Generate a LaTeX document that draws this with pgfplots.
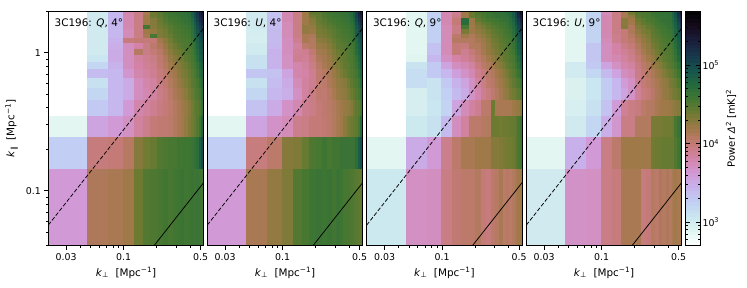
\documentclass[border=0pt]{standalone}
\usepackage{fontspec}
\setmainfont{DejaVu Sans}
\usepackage{pgfplots}
\pgfplotsset{compat=1.18}
\newcommand\kperp{\textit{k}\textsubscript{⊥}\ \ [Mpc\textsuperscript{−1}]}
\newcommand\kpar{\textit{k}\textsubscript{∥}\ \ [Mpc\textsuperscript{−1}]}
\newcommand\ttl[1]{\node[anchor=base west,inner sep=0pt,font=\fontsize{10.4}{11}\selectfont] at (axis description cs:0.04,0.932) {#1};}
\pgfplotsset{
  chpanel/.style={
    scale only axis, width=155.4pt, height=234.7pt,
    xmin=0.02065, xmax=0.533, ymin=0.04, ymax=2.0,
    axis on top, axis line style={black,line width=0.8pt},
    tick style={black,line width=0.7pt},
    major tick length=4pt, minor tick length=2.4pt, tick align=outside,
    xtick pos=bottom, ytick pos=left,
    xtick={0.03,0.1,0.5}, xticklabels={0.03,0.1,0.5},
    minor xtick={0.04,0.05,0.06,0.07,0.08,0.09,0.2,0.3,0.4},
    ytick=\empty,
    xlabel={\kperp},
    xlabel style={at={(axis description cs:0.5,0)},anchor=base,yshift=-30.5pt},
    tick label style={font=\fontsize{9.4}{11}\selectfont},
    label style={font=\fontsize{10.4}{11}\selectfont},
    colormap={ch}{rgb=(1,1,1) rgb=(.8851,.9634,.9413) rgb=(.7927,.9046,.9407) rgb=(.7581,.8136,.9549)
      rgb=(.7798,.7015,.9287) rgb=(.8209,.5936,.8272) rgb=(.8299,.5152,.6552) rgb=(.7673,.4784,.4552)
      rgb=(.6275,.475,.2864) rgb=(.4414,.4807,.1953) rgb=(.2616,.4669,.1915) rgb=(.1363,.4148,.2444)
      rgb=(.085,.325,.2979) rgb=(.0894,.2163,.3005) rgb=(.1042,.1156,.232) rgb=(.0817,.0431,.1143) rgb=(0,0,0)},
    point meta min=2.70, point meta max=5.69,
  },
  chcells/.style={surf, shader=flat corner, mesh/rows=21, mesh/cols=21, forget plot},
}
\def\xn{\ifcase\numexpr\coordindex-21*((\coordindex-10)/21)\relax 0.0205\or0.0467\or0.0725\or0.0983\or0.1241\or0.1499\or0.1757\or0.2015\or0.2273\or0.2531\or0.2789\or0.3047\or0.3305\or0.3563\or0.3821\or0.4079\or0.4337\or0.4595\or0.4853\or0.5111\or0.5369\fi}
\def\yn{\ifcase\numexpr(\coordindex-10)/21\relax 2.05\or1.979\or1.877\or1.775\or1.673\or1.571\or1.469\or1.367\or1.265\or1.163\or1.061\or0.959\or0.857\or0.755\or0.653\or0.551\or0.449\or0.347\or0.245\or0.143\or0.039\fi}
\pgfplotsset{/pgfplots/table/gridtable/.style={row sep=crcr, header=false,
  x expr={\xn}, y expr={\yn}}}
\begin{document}
\begin{tikzpicture}
\useasboundingbox (0pt,0pt) rectangle (747pt,287pt);
%%% panel 1
\begin{axis}[xmode=log, ymode=log, chpanel, at={(48.3pt,41.3pt)}, anchor=south west,
  ytick={0.1,1}, yticklabels={0.1,1},
  minor ytick={0.04,0.05,0.06,0.07,0.08,0.09,0.2,0.3,0.4,0.5,0.6,0.7,0.8,0.9,2},
  ylabel={\kpar}, ylabel style={at={(axis description cs:0,0.5)},anchor=base,yshift=34pt}]
\addplot[chcells, point meta=\thisrowno{0}] table[gridtable]{
2.70\\3.03\\3.42\\3.80\\3.95\\4.15\\4.40\\4.47\\4.55\\4.60\\4.62\\4.65\\4.66\\4.68\\4.72\\4.85\\5.00\\5.15\\5.30\\5.40\\5.40\\
2.70\\3.03\\3.42\\3.80\\3.95\\4.15\\4.40\\4.47\\4.55\\4.60\\4.62\\4.65\\4.66\\4.68\\4.72\\4.85\\5.00\\5.15\\5.30\\5.40\\5.40\\
2.70\\3.03\\3.42\\3.78\\3.95\\4.20\\4.40\\4.45\\4.52\\4.58\\4.60\\4.62\\4.65\\4.67\\4.70\\4.82\\4.98\\5.12\\5.25\\5.35\\5.35\\
2.70\\3.03\\3.42\\3.78\\3.95\\4.20\\4.30\\4.42\\4.50\\4.56\\4.58\\4.60\\4.63\\4.65\\4.68\\4.78\\4.92\\5.08\\5.20\\5.30\\5.30\\
2.70\\3.03\\3.42\\3.78\\3.95\\4.20\\4.30\\4.40\\4.46\\4.52\\4.56\\4.58\\4.60\\4.63\\4.66\\4.74\\4.88\\5.02\\5.15\\5.25\\5.25\\
2.70\\3.03\\3.42\\3.78\\3.95\\4.58\\4.30\\4.38\\4.43\\4.48\\4.54\\4.56\\4.58\\4.60\\4.63\\4.70\\4.84\\4.98\\5.08\\5.18\\5.18\\
2.70\\3.03\\3.42\\3.75\\3.95\\4.20\\4.25\\4.33\\4.38\\4.46\\4.52\\4.54\\4.56\\4.58\\4.60\\4.68\\4.80\\4.93\\5.04\\5.12\\5.12\\
2.70\\3.03\\3.42\\3.75\\3.95\\4.15\\4.55\\4.33\\4.36\\4.43\\4.50\\4.52\\4.54\\4.56\\4.58\\4.65\\4.76\\4.88\\5.00\\5.06\\5.06\\
2.70\\3.03\\3.45\\3.98\\4.00\\4.00\\4.00\\4.18\\4.28\\4.38\\4.46\\4.50\\4.52\\4.54\\4.56\\4.62\\4.72\\4.85\\4.96\\5.03\\5.03\\
2.70\\3.03\\3.48\\3.72\\3.82\\3.95\\4.05\\4.12\\4.23\\4.33\\4.40\\4.46\\4.50\\4.52\\4.54\\4.60\\4.68\\4.80\\4.92\\4.98\\4.98\\
2.70\\3.03\\3.50\\3.72\\4.08\\3.95\\4.00\\4.07\\4.18\\4.28\\4.36\\4.40\\4.46\\4.50\\4.52\\4.57\\4.65\\4.76\\4.88\\4.95\\4.95\\
2.70\\3.08\\3.50\\3.72\\3.85\\3.90\\3.95\\4.04\\4.12\\4.23\\4.30\\4.36\\4.40\\4.46\\4.50\\4.55\\4.60\\4.72\\4.84\\4.90\\4.90\\
2.70\\3.20\\3.45\\3.72\\3.82\\3.88\\3.92\\4.02\\4.09\\4.18\\4.26\\4.30\\4.36\\4.40\\4.46\\4.52\\4.57\\4.66\\4.78\\4.85\\4.85\\
2.70\\3.38\\3.42\\3.65\\3.80\\3.85\\3.90\\3.98\\4.05\\4.13\\4.20\\4.28\\4.33\\4.36\\4.43\\4.48\\4.54\\4.62\\4.72\\4.80\\4.80\\
2.70\\3.12\\3.42\\3.50\\3.72\\3.80\\3.85\\3.96\\4.02\\4.10\\4.16\\4.23\\4.28\\4.33\\4.40\\4.46\\4.50\\4.56\\4.65\\4.74\\4.74\\
2.70\\3.20\\3.42\\3.50\\3.72\\3.78\\3.85\\3.94\\3.99\\4.06\\4.13\\4.18\\4.23\\4.28\\4.36\\4.42\\4.48\\4.52\\4.58\\4.70\\4.70\\
2.70\\3.30\\3.42\\3.62\\3.80\\3.85\\3.90\\3.96\\4.00\\4.04\\4.09\\4.15\\4.20\\4.23\\4.30\\4.38\\4.44\\4.48\\4.54\\4.64\\4.64\\
2.87\\3.55\\3.62\\3.70\\3.85\\3.92\\4.00\\4.02\\4.02\\4.05\\4.10\\4.15\\4.18\\4.25\\4.32\\4.38\\4.42\\4.50\\4.60\\4.80\\4.80\\
3.27\\3.98\\4.00\\4.08\\4.30\\4.38\\4.42\\4.50\\4.52\\4.55\\4.55\\4.58\\4.58\\4.60\\4.60\\4.62\\4.65\\4.70\\4.85\\4.98\\4.98\\
3.62\\4.12\\4.15\\4.20\\4.40\\4.50\\4.52\\4.55\\4.58\\4.55\\4.58\\4.60\\4.62\\4.58\\4.60\\4.62\\4.60\\4.62\\4.60\\4.58\\4.58\\
2.70\\2.70\\2.70\\2.70\\2.70\\2.70\\2.70\\2.70\\2.70\\2.70\\2.70\\2.70\\2.70\\2.70\\2.70\\2.70\\2.70\\2.70\\2.70\\2.70\\2.70\\
};
\addplot[black,dash pattern=on 4pt off 2pt,line width=0.75pt] coordinates {(0.02065,0.0564) (0.533,1.5)};
\addplot[black,line width=0.75pt] coordinates {(0.1885,0.04) (0.533,0.1145)};
\ttl{3C196: \textit{Q},\,\,4°}
\end{axis}
%%% panel 2
\begin{axis}[xmode=log, ymode=log, chpanel, at={(207.3pt,41.3pt)}, anchor=south west]
\addplot[chcells, point meta=\thisrowno{0}] table[gridtable]{
2.70\\3.03\\3.35\\3.78\\3.95\\4.20\\4.45\\4.46\\4.54\\4.58\\4.60\\4.62\\4.64\\4.66\\4.68\\4.75\\4.85\\5.05\\5.25\\5.35\\5.35\\
2.70\\3.03\\3.35\\3.78\\3.95\\4.20\\4.45\\4.46\\4.54\\4.58\\4.60\\4.62\\4.64\\4.66\\4.68\\4.75\\4.85\\5.05\\5.25\\5.35\\5.35\\
2.70\\3.03\\3.35\\3.78\\3.95\\4.20\\4.38\\4.44\\4.52\\4.56\\4.59\\4.60\\4.62\\4.64\\4.66\\4.72\\4.85\\5.05\\5.22\\5.30\\5.30\\
2.70\\3.03\\3.38\\3.78\\3.95\\4.20\\4.30\\4.43\\4.48\\4.54\\4.56\\4.58\\4.60\\4.62\\4.64\\4.70\\4.80\\5.00\\5.15\\5.22\\5.22\\
2.70\\3.03\\3.38\\3.75\\3.95\\4.20\\4.28\\4.41\\4.45\\4.50\\4.55\\4.56\\4.58\\4.60\\4.62\\4.68\\4.76\\4.95\\5.08\\5.16\\5.16\\
2.70\\3.03\\3.38\\3.75\\3.95\\4.25\\4.25\\4.37\\4.42\\4.47\\4.50\\4.55\\4.56\\4.58\\4.60\\4.65\\4.72\\4.90\\5.02\\5.10\\5.10\\
2.70\\3.00\\3.40\\3.75\\3.95\\4.25\\4.22\\4.35\\4.37\\4.42\\4.47\\4.50\\4.55\\4.56\\4.58\\4.62\\4.70\\4.86\\4.98\\5.05\\5.05\\
2.70\\2.98\\3.40\\3.75\\3.95\\4.15\\4.12\\4.32\\4.35\\4.40\\4.45\\4.50\\4.52\\4.55\\4.56\\4.60\\4.68\\4.82\\4.94\\5.00\\5.00\\
2.70\\2.98\\3.40\\3.72\\3.90\\4.15\\4.10\\4.27\\4.30\\4.35\\4.42\\4.47\\4.50\\4.52\\4.55\\4.58\\4.66\\4.78\\4.90\\4.96\\4.96\\
2.70\\3.03\\3.42\\3.72\\3.85\\4.05\\4.10\\4.22\\4.25\\4.30\\4.38\\4.45\\4.47\\4.50\\4.52\\4.57\\4.62\\4.75\\4.86\\4.94\\4.94\\
2.70\\3.03\\3.45\\3.72\\3.88\\3.90\\4.02\\4.17\\4.20\\4.26\\4.33\\4.40\\4.45\\4.47\\4.50\\4.55\\4.60\\4.72\\4.83\\4.92\\4.92\\
2.70\\3.12\\3.45\\3.70\\3.90\\3.88\\3.98\\4.12\\4.17\\4.23\\4.30\\4.36\\4.42\\4.45\\4.50\\4.53\\4.57\\4.66\\4.78\\4.88\\4.88\\
2.70\\3.12\\3.45\\3.70\\3.80\\3.85\\3.95\\4.07\\4.15\\4.20\\4.27\\4.33\\4.38\\4.45\\4.47\\4.52\\4.55\\4.62\\4.73\\4.84\\4.84\\
2.70\\3.32\\3.35\\3.55\\3.80\\3.82\\3.90\\4.04\\4.08\\4.15\\4.22\\4.28\\4.35\\4.40\\4.45\\4.50\\4.52\\4.57\\4.68\\4.76\\4.76\\
2.70\\3.12\\3.38\\3.50\\3.75\\3.85\\3.90\\4.02\\4.05\\4.12\\4.18\\4.25\\4.27\\4.30\\4.38\\4.45\\4.50\\4.54\\4.60\\4.70\\4.70\\
2.70\\3.20\\3.42\\3.48\\3.70\\3.85\\3.95\\4.03\\4.02\\4.08\\4.15\\4.22\\4.25\\4.27\\4.33\\4.40\\4.45\\4.50\\4.55\\4.62\\4.62\\
2.70\\3.35\\3.50\\3.68\\3.78\\3.90\\3.95\\4.00\\4.03\\4.06\\4.10\\4.15\\4.20\\4.23\\4.26\\4.30\\4.40\\4.45\\4.48\\4.55\\4.55\\
2.87\\3.55\\3.68\\3.75\\3.92\\3.95\\4.00\\4.00\\4.02\\4.05\\4.10\\4.15\\4.20\\4.28\\4.35\\4.40\\4.42\\4.45\\4.55\\4.72\\4.72\\
3.27\\3.97\\4.05\\4.30\\4.32\\4.42\\4.52\\4.55\\4.60\\4.55\\4.58\\4.58\\4.62\\4.62\\4.62\\4.62\\4.62\\4.70\\4.85\\4.95\\4.95\\
3.62\\4.15\\4.25\\4.32\\4.50\\4.55\\4.60\\4.62\\4.60\\4.62\\4.58\\4.62\\4.60\\4.55\\4.55\\4.52\\4.50\\4.48\\4.45\\4.45\\4.45\\
2.70\\2.70\\2.70\\2.70\\2.70\\2.70\\2.70\\2.70\\2.70\\2.70\\2.70\\2.70\\2.70\\2.70\\2.70\\2.70\\2.70\\2.70\\2.70\\2.70\\2.70\\
};
\addplot[black,dash pattern=on 4pt off 2pt,line width=0.75pt] coordinates {(0.02065,0.0564) (0.533,1.5)};
\addplot[black,line width=0.75pt] coordinates {(0.1885,0.04) (0.533,0.1145)};
\ttl{3C196: \textit{U},\,\,4°}
\end{axis}
%%% panel 3
\begin{axis}[xmode=log, ymode=log, chpanel, at={(366.7pt,41.3pt)}, anchor=south west]
\addplot[chcells, point meta=\thisrowno{0}] table[gridtable]{
2.70\\2.88\\3.25\\3.78\\3.90\\4.20\\4.42\\4.52\\4.56\\4.60\\4.64\\4.65\\4.67\\4.68\\4.72\\4.78\\4.88\\5.05\\5.25\\5.40\\5.40\\
2.70\\2.88\\3.25\\3.78\\3.90\\4.20\\4.42\\4.52\\4.56\\4.60\\4.64\\4.65\\4.67\\4.68\\4.72\\4.78\\4.88\\5.05\\5.25\\5.40\\5.40\\
2.70\\2.88\\3.25\\3.78\\3.95\\4.20\\4.42\\4.48\\4.54\\4.60\\4.62\\4.65\\4.65\\4.67\\4.68\\4.75\\4.85\\5.02\\5.22\\5.35\\5.35\\
2.70\\2.88\\3.25\\3.78\\4.00\\4.72\\4.22\\4.44\\4.50\\4.55\\4.57\\4.60\\4.63\\4.65\\4.66\\4.72\\4.82\\4.98\\5.12\\5.24\\5.24\\
2.70\\2.88\\3.25\\3.78\\4.00\\4.72\\4.22\\4.36\\4.44\\4.48\\4.54\\4.56\\4.58\\4.60\\4.64\\4.70\\4.78\\4.94\\5.08\\5.18\\5.18\\
2.70\\2.88\\3.25\\3.75\\3.95\\4.55\\4.20\\4.31\\4.36\\4.44\\4.48\\4.51\\4.56\\4.58\\4.61\\4.67\\4.75\\4.88\\5.03\\5.13\\5.13\\
2.70\\2.88\\3.25\\3.75\\3.95\\4.35\\4.20\\4.26\\4.31\\4.38\\4.44\\4.48\\4.51\\4.56\\4.58\\4.62\\4.71\\4.84\\4.98\\5.07\\5.07\\
2.70\\2.88\\3.25\\3.75\\4.05\\4.20\\4.12\\4.21\\4.26\\4.34\\4.41\\4.44\\4.48\\4.54\\4.56\\4.59\\4.67\\4.80\\4.94\\5.03\\5.03\\
2.70\\2.88\\3.25\\3.75\\4.08\\4.10\\4.10\\4.16\\4.21\\4.28\\4.38\\4.41\\4.46\\4.51\\4.54\\4.56\\4.65\\4.76\\4.90\\4.97\\4.97\\
2.70\\2.88\\3.35\\3.75\\4.00\\3.98\\4.10\\4.11\\4.18\\4.26\\4.34\\4.38\\4.44\\4.48\\4.51\\4.56\\4.62\\4.74\\4.87\\4.94\\4.94\\
2.70\\2.88\\3.35\\3.75\\4.00\\3.90\\4.00\\4.08\\4.16\\4.24\\4.31\\4.36\\4.41\\4.46\\4.48\\4.54\\4.58\\4.70\\4.83\\4.92\\4.92\\
2.70\\2.90\\3.42\\3.70\\3.82\\3.88\\3.95\\4.04\\4.11\\4.18\\4.26\\4.31\\4.38\\4.44\\4.46\\4.51\\4.55\\4.65\\4.76\\4.86\\4.86\\
2.70\\3.10\\3.30\\3.55\\3.72\\3.78\\3.85\\3.97\\4.06\\4.11\\4.18\\4.26\\4.31\\4.38\\4.44\\4.48\\4.53\\4.60\\4.70\\4.79\\4.79\\
2.70\\3.15\\3.30\\3.42\\3.58\\3.68\\3.78\\3.90\\3.98\\4.06\\4.11\\4.18\\4.24\\4.31\\4.36\\4.44\\4.48\\4.55\\4.63\\4.70\\4.70\\
2.70\\3.15\\3.10\\3.30\\3.45\\3.55\\3.70\\3.85\\3.95\\4.03\\4.07\\4.15\\4.20\\4.26\\4.31\\4.38\\4.44\\4.48\\4.54\\4.60\\4.60\\
2.70\\2.98\\3.10\\3.25\\3.40\\3.50\\3.68\\3.80\\3.90\\3.97\\4.03\\4.10\\4.17\\4.23\\4.26\\4.34\\4.38\\4.41\\4.46\\4.52\\4.52\\
2.70\\2.98\\3.08\\3.22\\3.55\\3.75\\3.85\\3.90\\4.05\\4.05\\4.40\\4.15\\4.15\\4.15\\4.15\\4.15\\4.20\\4.22\\4.25\\4.28\\4.28\\
2.70\\3.05\\3.12\\3.40\\3.72\\3.85\\4.05\\4.05\\4.08\\4.10\\4.40\\4.40\\4.38\\4.40\\4.40\\4.42\\4.42\\4.45\\4.55\\4.62\\4.62\\
2.87\\3.50\\3.62\\3.92\\4.05\\4.15\\4.15\\4.20\\4.20\\4.20\\4.30\\4.30\\4.32\\4.35\\4.38\\4.38\\4.40\\4.45\\4.55\\4.60\\4.60\\
3.05\\3.70\\3.72\\3.95\\4.02\\4.05\\4.05\\4.10\\4.00\\3.98\\4.05\\4.08\\4.15\\4.05\\4.08\\4.05\\4.10\\4.15\\4.20\\4.20\\4.20\\
2.70\\2.70\\2.70\\2.70\\2.70\\2.70\\2.70\\2.70\\2.70\\2.70\\2.70\\2.70\\2.70\\2.70\\2.70\\2.70\\2.70\\2.70\\2.70\\2.70\\2.70\\
};
\addplot[black,dash pattern=on 4pt off 2pt,line width=0.75pt] coordinates {(0.02065,0.0564) (0.533,1.5)};
\addplot[black,line width=0.75pt] coordinates {(0.1885,0.04) (0.533,0.1145)};
\ttl{3C196: \textit{Q},\,\,9°}
\end{axis}
%%% panel 4
\begin{axis}[xmode=log, ymode=log, chpanel, at={(526.3pt,41.3pt)}, anchor=south west,
  colorbar sampled,
  colorbar style={samples=65, at={(1.0257,0)}, anchor=south west, width=14.3pt,
    axis line style={black,line width=0.8pt}, tick style={black,line width=0.7pt},
    major tick length=4pt, minor tick length=2.4pt,
    ytick={3,4,5}, yticklabels={10\textsuperscript{3},10\textsuperscript{4},10\textsuperscript{5}},
    minor ytick={2.778,2.845,2.903,2.954,3.301,3.477,3.602,3.699,3.778,3.845,3.903,3.954,4.301,4.477,4.602,4.699,4.778,4.845,4.903,4.954,5.301,5.477,5.602},
    yticklabel style={font=\fontsize{9.4}{11}\selectfont,xshift=-1pt},
    ylabel={Power \textit{Δ}\textsuperscript{2} [mK]\textsuperscript{2}},
    ylabel style={font=\fontsize{10}{11}\selectfont},
  }]
\addplot[chcells, point meta=\thisrowno{0}] table[gridtable]{
2.70\\2.87\\3.22\\3.75\\3.95\\4.15\\4.38\\4.50\\4.53\\4.55\\4.62\\4.64\\4.66\\4.66\\4.66\\4.68\\4.80\\4.95\\5.18\\5.35\\5.35\\
2.70\\2.87\\3.22\\3.75\\3.95\\4.15\\4.38\\4.50\\4.53\\4.55\\4.62\\4.64\\4.66\\4.66\\4.66\\4.68\\4.80\\4.95\\5.18\\5.35\\5.35\\
2.70\\2.87\\3.22\\3.78\\3.95\\4.15\\4.25\\4.46\\4.52\\4.54\\4.59\\4.62\\4.64\\4.64\\4.66\\4.67\\4.78\\4.92\\5.12\\5.30\\5.30\\
2.70\\2.87\\3.22\\3.78\\3.95\\4.28\\4.20\\4.40\\4.47\\4.53\\4.55\\4.60\\4.63\\4.65\\4.65\\4.67\\4.76\\4.88\\5.06\\5.20\\5.20\\
2.70\\2.87\\3.22\\3.78\\3.95\\4.28\\4.18\\4.36\\4.44\\4.48\\4.53\\4.57\\4.60\\4.63\\4.65\\4.65\\4.73\\4.86\\5.00\\5.15\\5.15\\
2.70\\2.87\\3.22\\3.78\\3.95\\4.30\\4.12\\4.31\\4.36\\4.44\\4.48\\4.55\\4.57\\4.60\\4.63\\4.65\\4.70\\4.83\\4.97\\5.09\\5.09\\
2.70\\2.87\\3.22\\3.78\\3.95\\4.00\\4.12\\4.26\\4.34\\4.38\\4.46\\4.50\\4.55\\4.57\\4.60\\4.62\\4.67\\4.80\\4.94\\5.04\\5.04\\
2.70\\2.87\\3.22\\3.78\\3.92\\4.00\\4.08\\4.21\\4.28\\4.34\\4.44\\4.48\\4.50\\4.55\\4.57\\4.60\\4.65\\4.77\\4.90\\4.99\\4.99\\
2.70\\2.87\\3.22\\3.75\\3.92\\4.00\\4.05\\4.16\\4.24\\4.31\\4.41\\4.44\\4.48\\4.53\\4.55\\4.57\\4.62\\4.75\\4.86\\4.96\\4.96\\
2.70\\2.87\\3.32\\3.72\\3.82\\3.95\\4.00\\4.11\\4.21\\4.26\\4.36\\4.41\\4.46\\4.50\\4.53\\4.55\\4.60\\4.70\\4.83\\4.92\\4.92\\
2.70\\2.87\\3.32\\3.72\\3.82\\3.88\\3.95\\4.06\\4.16\\4.24\\4.31\\4.38\\4.44\\4.48\\4.50\\4.53\\4.57\\4.67\\4.80\\4.89\\4.89\\
2.70\\2.87\\3.32\\3.72\\3.78\\3.85\\3.92\\4.01\\4.11\\4.18\\4.26\\4.34\\4.38\\4.44\\4.48\\4.50\\4.55\\4.63\\4.75\\4.84\\4.84\\
2.70\\3.02\\3.30\\3.55\\3.70\\3.80\\3.85\\3.96\\4.06\\4.11\\4.21\\4.26\\4.31\\4.38\\4.44\\4.48\\4.50\\4.57\\4.67\\4.76\\4.76\\
2.70\\3.02\\3.20\\3.40\\3.55\\3.72\\3.78\\3.94\\4.01\\4.08\\4.14\\4.21\\4.24\\4.31\\4.36\\4.41\\4.44\\4.50\\4.60\\4.66\\4.66\\
2.70\\2.95\\3.08\\3.28\\3.42\\3.60\\3.70\\3.90\\4.00\\4.05\\4.10\\4.15\\4.20\\4.25\\4.27\\4.35\\4.37\\4.43\\4.50\\4.54\\4.54\\
2.70\\2.95\\3.08\\3.28\\3.42\\3.55\\3.68\\3.87\\3.97\\4.00\\4.07\\4.13\\4.17\\4.23\\4.25\\4.30\\4.35\\4.37\\4.43\\4.46\\4.46\\
2.70\\2.97\\3.12\\3.35\\3.60\\3.88\\3.95\\3.98\\4.05\\4.08\\4.10\\4.15\\4.18\\4.20\\4.20\\4.22\\4.25\\4.28\\4.30\\4.35\\4.35\\
2.70\\3.03\\3.20\\3.48\\3.65\\3.95\\3.95\\4.10\\4.10\\4.10\\4.35\\4.35\\4.35\\4.38\\4.38\\4.38\\4.40\\4.55\\4.62\\4.72\\4.72\\
2.87\\3.47\\3.62\\3.95\\4.05\\4.20\\4.20\\4.20\\4.20\\4.20\\4.38\\4.40\\4.40\\4.42\\4.42\\4.42\\4.42\\4.50\\4.58\\4.68\\4.68\\
3.03\\3.68\\3.70\\3.95\\3.98\\4.15\\4.15\\4.15\\3.98\\4.00\\4.08\\4.05\\4.12\\4.08\\4.12\\4.08\\4.15\\4.18\\4.15\\4.20\\4.20\\
2.70\\2.70\\2.70\\2.70\\2.70\\2.70\\2.70\\2.70\\2.70\\2.70\\2.70\\2.70\\2.70\\2.70\\2.70\\2.70\\2.70\\2.70\\2.70\\2.70\\2.70\\
};
\addplot[black,dash pattern=on 4pt off 2pt,line width=0.75pt] coordinates {(0.02065,0.0564) (0.533,1.5)};
\addplot[black,line width=0.75pt] coordinates {(0.1885,0.04) (0.533,0.1145)};
\ttl{3C196: \textit{U},\,\,9°}
\end{axis}
\end{tikzpicture}
\end{document}
